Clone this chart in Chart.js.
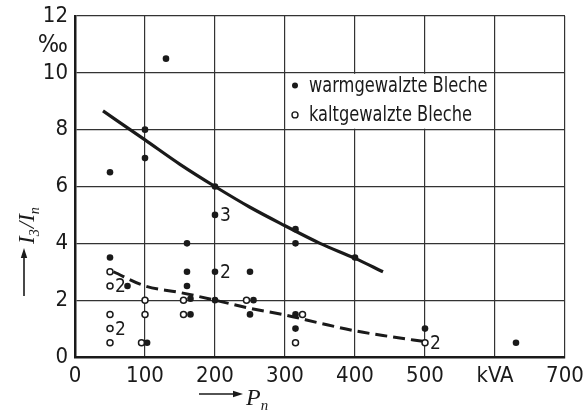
<!DOCTYPE html>
<html>
<head>
<meta charset="utf-8">
<script src="https://cdn.jsdelivr.net/npm/chart.js@4.4.1/dist/chart.umd.min.js"></script>
<style>
  html, body { margin: 0; padding: 0; background: #fff; }
  #wrap { width: 585px; height: 416px; }
</style>
</head>
<body>
<div id="wrap"><canvas id="chart"></canvas></div>
<script>
// measured points, x = rated power in kVA, y = I3/In in per mille
const warmX = [50, 50, 75, 100, 100, 103, 130, 160, 160, 160, 165, 165, 200, 200, 200, 200, 250, 255, 250, 315, 315, 315, 315, 400, 500, 630];
const warmY = [6.5, 3.5, 2.5, 8, 7, 0.5, 10.5, 4, 3, 2.5, 2.05, 1.5, 6, 5, 3, 2, 3, 2, 1.5, 4.5, 4, 1.5, 1, 3.5, 1, 0.5];
const coldX = [50, 50, 50, 50, 50, 95, 100, 100, 155, 155, 245, 315, 325, 500];
const coldY = [3, 2.5, 1.5, 1, 0.5, 0.5, 2, 1.5, 2, 1.5, 2, 0.5, 1.5, 0.5];

// mean curves
const warmCurveX = [40, 100, 150, 200, 250, 300, 350, 400, 440];
const warmCurveY = [8.66, 7.64, 6.78, 6.0, 5.27, 4.62, 4.0, 3.47, 3.0];
const coldCurveX = [55, 100, 150, 200, 250, 300, 350, 400, 450, 500];
const coldCurveY = [3.0, 2.5, 2.27, 2.0, 1.71, 1.48, 1.19, 0.92, 0.72, 0.54];

// "n" markers beside points that stand for several transformers
const countX = [50, 50, 200, 200, 500];
const countY = [2.5, 1, 5, 3, 0.5];
const countText = ['2', '2', '3', '2', '2'];

const xTickLabels = ['0', '100', '200', '300', '400', '500', 'kVA', '700'];
const yTickLabels = ['0', '2', '4', '6', '8', '10', '12'];
const legendLabels = ['warmgewalzte Bleche', 'kaltgewalzte Bleche'];

const ink = '#1a1a1a';
const narrow = "'Liberation Sans Narrow', 'DejaVu Sans Condensed', sans-serif";
const serif = "'Liberation Serif', 'DejaVu Serif', serif";

function toPoints(xs, ys) {
  return xs.map((x, i) => ({ x: x, y: ys[i] }));
}

// draws text runs with subscripts, starting at x, baseline y
function drawRuns(ctx, runs, x, y, size) {
  runs.forEach((r) => {
    const s = r.sub ? size * 0.62 : size;
    ctx.font = 'italic ' + s + 'px ' + serif;
    ctx.fillText(r.t, x, r.sub ? y + size * 0.22 : y);
    x += ctx.measureText(r.t).width + (r.sub ? 1 : 0);
  });
}

function arrow(ctx, x1, y1, x2, y2) {
  const a = Math.atan2(y2 - y1, x2 - x1);
  ctx.beginPath();
  ctx.moveTo(x1, y1);
  ctx.lineTo(x2 - 6 * Math.cos(a), y2 - 6 * Math.sin(a));
  ctx.lineWidth = 1.6;
  ctx.stroke();
  ctx.beginPath();
  ctx.moveTo(x2, y2);
  ctx.lineTo(x2 - 10 * Math.cos(a) + 3.2 * Math.sin(a), y2 - 10 * Math.sin(a) - 3.2 * Math.cos(a));
  ctx.lineTo(x2 - 10 * Math.cos(a) - 3.2 * Math.sin(a), y2 - 10 * Math.sin(a) + 3.2 * Math.cos(a));
  ctx.closePath();
  ctx.fill();
}

// narrow lettering like the original stencil font
function squeezed(ctx, text, x, y, k) {
  ctx.save();
  ctx.translate(x, y);
  ctx.scale(k, 1);
  ctx.fillText(text, 0, 0);
  ctx.restore();
}

const decor = {
  id: 'decor',
  afterDraw(chart) {
    const ctx = chart.ctx;
    const xs = chart.scales.x;
    const ys = chart.scales.y;
    ctx.save();
    ctx.fillStyle = ink;
    ctx.strokeStyle = ink;

    // legend sits in the grid cell 300..600 / 8..10
    const bx1 = xs.getPixelForValue(300), bx2 = xs.getPixelForValue(600);
    const by1 = ys.getPixelForValue(10), by2 = ys.getPixelForValue(8);
    ctx.fillStyle = '#fff';
    ctx.fillRect(bx1 + 1, by1 + 1, bx2 - bx1 - 2, by2 - by1 - 2);
    ctx.fillStyle = ink;
    const rows = [ys.getPixelForValue(9.55), ys.getPixelForValue(8.52)];
    ctx.font = '21px ' + narrow;
    ctx.textBaseline = 'middle';
    legendLabels.forEach((t, i) => {
      ctx.beginPath();
      ctx.arc(bx1 + 10, rows[i], 3, 0, Math.PI * 2);
      if (i === 0) ctx.fill();
      else { ctx.fillStyle = '#fff'; ctx.fill(); ctx.fillStyle = ink; ctx.lineWidth = 1.4; ctx.stroke(); }
      squeezed(ctx, t, bx1 + 24, rows[i] + 1, 0.86);
    });

    // counts next to points
    ctx.font = '19px ' + narrow;
    countText.forEach((t, i) => {
      ctx.fillText(t, xs.getPixelForValue(countX[i]) + 5, ys.getPixelForValue(countY[i]) + 1);
    });

    // per mille unit under the top tick
    ctx.font = '25px ' + narrow;
    ctx.textAlign = 'right';
    ctx.fillText('‰', xs.left - 7, ys.getPixelForValue(10.95));
    ctx.textAlign = 'left';
    ctx.textBaseline = 'alphabetic';

    // x title: arrow + P_n
    const xRuns = [{ t: 'P' }, { t: 'n', sub: true }];
    arrow(ctx, 199, 394, 243, 394);
    drawRuns(ctx, xRuns, 246, 405, 24);

    // y title: arrow + I_3/I_n, rotated
    const yRuns = [{ t: 'I' }, { t: '3', sub: true }, { t: '/I' }, { t: 'n', sub: true }];
    arrow(ctx, 24, 296, 24, 248);
    ctx.save();
    ctx.translate(34, 244);
    ctx.rotate(-Math.PI / 2);
    drawRuns(ctx, yRuns, 0, 0, 23);
    ctx.restore();

    ctx.restore();
  }
};

new Chart(document.getElementById('chart').getContext('2d'), {
  type: 'scatter',
  data: {
    datasets: [
      {
        label: legendLabels[0],
        data: toPoints(warmX, warmY),
        pointRadius: 3.3,
        backgroundColor: ink,
        borderWidth: 0,
      },
      {
        label: legendLabels[1],
        data: toPoints(coldX, coldY),
        pointRadius: 3,
        backgroundColor: '#fff',
        borderColor: ink,
        borderWidth: 1.5,
      },
      {
        data: toPoints(warmCurveX, warmCurveY),
        showLine: true,
        cubicInterpolationMode: 'monotone',
        pointRadius: 0,
        borderColor: ink,
        borderWidth: 3.2,
      },
      {
        data: toPoints(coldCurveX, coldCurveY),
        showLine: true,
        cubicInterpolationMode: 'monotone',
        pointRadius: 0,
        borderColor: ink,
        borderWidth: 3,
        borderDash: [12, 6],
      },
    ],
  },
  options: {
    responsive: true,
    maintainAspectRatio: false,
    animation: false,
    layout: { padding: { top: 16, right: 20, left: 0, bottom: 0 } },
    plugins: { legend: { display: false }, tooltip: { enabled: false } },
    scales: {
      x: {
        type: 'linear',
        min: 0,
        max: 700,
        afterFit: (s) => { s.height = 59; s.paddingLeft = 0; s.paddingRight = 0; },
        ticks: {
          stepSize: 100,
          padding: 6,
          color: ink,
          font: { family: narrow, size: 22 },
          callback: (v) => xTickLabels[v / 100],
        },
        grid: { color: '#333', lineWidth: 1.2, drawTicks: false },
        border: { color: ink, width: 2.5 },
      },
      y: {
        min: 0,
        max: 12,
        afterFit: (s) => { s.width = 75; s.paddingTop = 0; s.paddingBottom = 0; },
        ticks: {
          stepSize: 2,
          padding: 7,
          color: ink,
          font: { family: narrow, size: 22 },
          callback: (v) => yTickLabels[v / 2],
        },
        grid: { color: '#333', lineWidth: 1.2, drawTicks: false },
        border: { color: ink, width: 2.5 },
      },
    },
  },
  plugins: [decor],
});
</script>
</body>
</html>
